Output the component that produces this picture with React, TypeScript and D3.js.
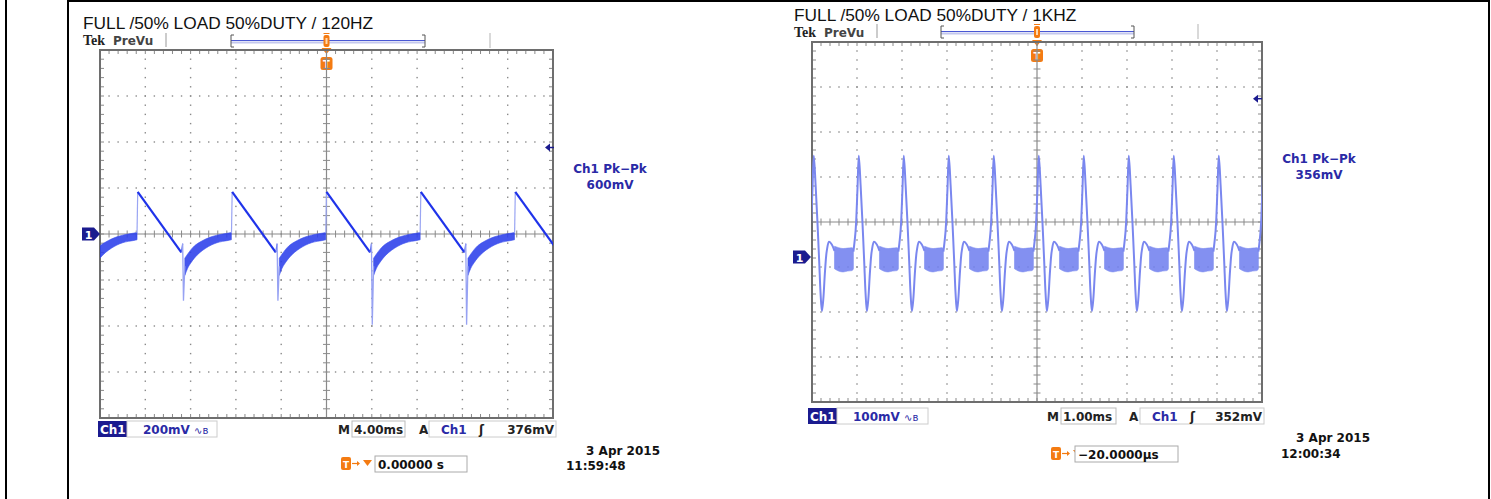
import React from "react"
import * as d3 from "d3"

type Pt = [number, number]

// ---------- left capture: 120 Hz, 4 ms/div, 200 mV/div ----------
const leftTitle = "FULL /50% LOAD 50%DUTY / 120HZ"
const leftScale = "200mV"
const leftTimebase = "4.00ms"
const leftTrigLevel = 376 // mV
const leftPkPk = "600mV"
const leftOffset = "0.00000 s"
const leftDate = "3 Apr 2015"
const leftClock = "11:59:48"

// ramp peak times (ms) and the depth of the spike after each ramp (mV)
const leftPeakTimes = [-25, -16.67, -8.33, 0, 8.33, 16.67]
const leftSpikeDepth = [-290, -290, -290, -395, -395, -395]
// one cycle, times relative to the ramp peak (ms), values in mV
const leftEdge: Pt[] = [[-0.06, 4], [0, 183]]
const leftRamp: Pt[] = [[0, 183], [3.85, -80]]
const leftKink: Pt[] = [[3.85, -80], [3.97, -42]]
const leftSpikeT = [3.97, 4.04, 4.16]
const leftSpikeEnds = [-42, -140]
const leftBandT = [4.16, 4.4, 4.7, 5.0, 5.5, 6.0, 6.5, 7.0, 7.5, 8.0, 8.27]
const leftBandHi = [-105, -88, -68, -52, -35, -22, -12, -5, 0, 4, 6]
const leftBandLo = [-180, -150, -125, -105, -80, -62, -48, -38, -32, -28, -25]

// ---------- right capture: 1 kHz, 1 ms/div, 100 mV/div ----------
const rightTitle = "FULL /50% LOAD 50%DUTY / 1KHZ"
const rightScale = "100mV"
const rightTimebase = "1.00ms"
const rightTrigLevel = 352
const rightPkPk = "356mV"
const rightOffset = "\u221220.0000\u00b5s"
const rightDate = "3 Apr 2015"
const rightClock = "12:00:34"

const rightSpikeTimes = [-4.96, -3.96, -2.96, -1.96, -0.96, 0.04, 1.04, 2.04, 3.04, 4.04, 5.04]
const rightPulse: Pt[] = [
  [-0.12, 12], [-0.07, 60], [-0.03, 150], [0, 225], [0.04, 160], [0.08, 80],
  [0.12, -10], [0.15, -80], [0.18, -120], [0.21, -95], [0.25, -30], [0.29, 15],
  [0.34, 34], [0.4, 28], [0.46, 14],
]
const rightBandT = [0.46, 0.55, 0.65, 0.75, 0.85, 0.88]
const rightBandHi = [24, 21, 19, 20, 21, 18]
const rightBandLo = [-26, -31, -33, -31, -30, -26]

// ---------- styling ----------
const UI = "'DejaVu Sans', Verdana, sans-serif"
const TXT_BLUE = "#2a2aa6"
const NAVY = "#1b1b8f"
const ORANGE = "#f47b12"
const GRID = "#8a8a8a"

interface Box { x0: number; y0: number; w: number; h: number }

function Graticule({ x0, y0, w, h }: Box) {
  const xd = d3.scaleLinear().domain([0, 10]).range([x0, x0 + w])
  const yd = d3.scaleLinear().domain([0, 8]).range([y0, y0 + h])
  const subX = d3.range(0, 51).map((i) => i / 5)
  const subY = d3.range(0, 41).map((i) => i / 5)
  const dots: Pt[] = []
  for (const i of [1, 2, 3, 4, 6, 7, 8, 9]) for (const s of subY) dots.push([xd(i), yd(s)])
  for (const j of [1, 2, 3, 5, 6, 7]) for (const s of subX) dots.push([xd(s), yd(j)])
  const cx = xd(5)
  const cy = yd(4)
  return (
    <g>
      {dots.map(([x, y], i) => (
        <rect key={i} x={x - 0.7} y={y - 0.7} width={1.4} height={1.4} fill={GRID} />
      ))}
      <line x1={cx} x2={cx} y1={y0} y2={y0 + h} stroke={GRID} strokeWidth={1.2} />
      <line x1={x0} x2={x0 + w} y1={cy} y2={cy} stroke={GRID} strokeWidth={1.2} />
      {subY.map((s, i) => (
        <g key={"vy" + i}>
          <line x1={cx - 3.5} x2={cx + 3.5} y1={yd(s)} y2={yd(s)} stroke={GRID} strokeWidth={1} />
          <line x1={x0} x2={x0 + 4} y1={yd(s)} y2={yd(s)} stroke={GRID} strokeWidth={1} />
          <line x1={x0 + w - 4} x2={x0 + w} y1={yd(s)} y2={yd(s)} stroke={GRID} strokeWidth={1} />
        </g>
      ))}
      {subX.map((s, i) => (
        <g key={"hx" + i}>
          <line x1={xd(s)} x2={xd(s)} y1={cy - 3.5} y2={cy + 3.5} stroke={GRID} strokeWidth={1} />
          <line x1={xd(s)} x2={xd(s)} y1={y0} y2={y0 + 4} stroke={GRID} strokeWidth={1} />
          <line x1={xd(s)} x2={xd(s)} y1={y0 + h - 4} y2={y0 + h} stroke={GRID} strokeWidth={1} />
        </g>
      ))}
      <rect x={x0} y={y0} width={w} height={h} fill="none" stroke="#6e6e6e" strokeWidth={2} />
    </g>
  )
}

interface HeaderProps {
  title: string
  tx: number
  titleY: number
  tekY: number
  sep1: number
  sep2: number
  barX1: number
  barX2: number
  barY: number
  cx: number
  graticuleTop: number
}

function Header(p: HeaderProps) {
  const by = p.barY
  return (
    <g>
      <text x={p.tx} y={p.titleY} fontFamily="'Liberation Sans', Arial, sans-serif" fontSize={17.3} fill="#111">
        {p.title}
      </text>
      <text x={p.tx} y={p.tekY} fontFamily="'Liberation Serif', serif" fontWeight="bold" fontSize={14} fill="#222">
        Tek
      </text>
      <text x={p.tx + 30} y={p.tekY} fontFamily={UI} fontWeight="bold" fontSize={12} fill="#444">
        PreVu
      </text>
      <line x1={p.sep1} x2={p.sep1} y1={by - 8} y2={by + 6} stroke="#999" strokeWidth={1} />
      <line x1={p.sep2} x2={p.sep2} y1={by - 8} y2={by + 7} stroke="#ccc" strokeWidth={1.5} />
      <line x1={p.barX1} x2={p.barX2} y1={by + 1.5} y2={by + 1.5} stroke="#c4c8ee" strokeWidth={2} />
      <line x1={p.barX1} x2={p.barX2} y1={by - 0.5} y2={by - 0.5} stroke="#4a58d4" strokeWidth={1.2} />
      <path d={`M${p.barX1 + 3},${by - 6} H${p.barX1} V${by + 6} H${p.barX1 + 3}`} fill="none" stroke="#555" strokeWidth={1} />
      <path d={`M${p.barX2 - 3},${by - 6} H${p.barX2} V${by + 6} H${p.barX2 - 3}`} fill="none" stroke="#555" strokeWidth={1} />
      {/* trigger position marker */}
      <rect x={p.cx - 3} y={by - 6} width={6} height={12} rx={2} fill={ORANGE} />
      <rect x={p.cx - 1} y={by - 3} width={2} height={6} fill="#ffd9b0" />
      <line x1={p.cx - 3} x2={p.cx + 3} y1={by - 7.5} y2={by - 7.5} stroke={ORANGE} strokeWidth={1} />
      <path d={`M${p.cx - 5},${p.graticuleTop - 2} L${p.cx + 5},${p.graticuleTop - 2} L${p.cx},${p.graticuleTop + 4} Z`} fill={ORANGE} />
      <rect x={p.cx - 6} y={p.graticuleTop + 7} width={12} height={13} rx={2.5} fill={ORANGE} />
      <text x={p.cx} y={p.graticuleTop + 17.5} textAnchor="middle" fontFamily={UI} fontWeight="bold" fontSize={10} fill="#fff">
        T
      </text>
    </g>
  )
}

interface StatusProps {
  scale: string
  timebase: string
  level: number
  offset: string
  date: string
  clock: string
  r1: number // row 1 top
  r2: number // row 2 top
  ch: number
  scaleEnd: number
  m: number
  mBox: [number, number]
  a: number
  aBox: [number, number]
  tIcon: number
  offBox: [number, number]
  dateRight: number
  dateY: number
  clockX: number
  clockY: number
}

function Status(s: StatusProps) {
  const h = 16
  const b1 = s.r1 + 12.5
  const b2 = s.r2 + 12.5
  const f = { fontFamily: UI, fontWeight: "bold" as const, fontSize: 12 }
  return (
    <g>
      <rect x={s.ch} y={s.r1} width={29} height={h} fill={NAVY} />
      <text x={s.ch + 2} y={b1} {...f} fill="#fff">Ch1</text>
      <rect x={s.ch + 29} y={s.r1} width={s.scaleEnd - s.ch - 29} height={h} fill="none" stroke="#ccc" strokeWidth={1} />
      <text x={s.ch + 45} y={b1} {...f} fill={TXT_BLUE}>{s.scale}</text>
      <text x={s.ch + 96} y={b1} fontFamily={UI} fontSize={10} fill={TXT_BLUE}>{"\u223f\u0299"}</text>
      <text x={s.m} y={b1} {...f} fill="#222">M</text>
      <rect x={s.mBox[0]} y={s.r1} width={s.mBox[1] - s.mBox[0]} height={h} fill="none" stroke="#bbb" strokeWidth={1} />
      <text x={s.mBox[0] + 2} y={b1} {...f} fill="#222">{s.timebase}</text>
      <text x={s.a} y={b1} {...f} fill="#222">A</text>
      <rect x={s.aBox[0]} y={s.r1} width={s.aBox[1] - s.aBox[0]} height={h} fill="none" stroke="#ccc" strokeWidth={1} />
      <text x={s.aBox[0] + 12} y={b1} {...f} fill={TXT_BLUE}>Ch1</text>
      <text x={s.aBox[0] + 50} y={b1} {...f} fill="#222">{"\u0283"}</text>
      <text x={s.aBox[1] - 2} y={b1} textAnchor="end" {...f} fill="#222">{`${s.level}mV`}</text>
      {/* trigger offset row */}
      <rect x={s.tIcon} y={s.r2 + 1} width={10} height={13} rx={2} fill={ORANGE} />
      <text x={s.tIcon + 5} y={s.r2 + 11.5} textAnchor="middle" fontFamily={UI} fontWeight="bold" fontSize={9} fill="#fff">T</text>
      <line x1={s.tIcon + 11} x2={s.tIcon + 18} y1={s.r2 + 7.5} y2={s.r2 + 7.5} stroke={ORANGE} strokeWidth={1.2} />
      <path d={`M${s.tIcon + 16},${s.r2 + 5} L${s.tIcon + 19},${s.r2 + 7.5} L${s.tIcon + 16},${s.r2 + 10} Z`} fill={ORANGE} />
      <path d={`M${s.tIcon + 22},${s.r2 + 4} L${s.tIcon + 31},${s.r2 + 4} L${s.tIcon + 26.5},${s.r2 + 10} Z`} fill={ORANGE} />
      <rect x={s.offBox[0]} y={s.r2} width={s.offBox[1] - s.offBox[0]} height={h} fill="#fff" stroke="#aaa" strokeWidth={1} />
      <text x={s.offBox[0] + 3} y={b2} {...f} fill="#111">{s.offset}</text>
      <text x={s.dateRight} y={s.dateY} textAnchor="end" {...f} fill="#111">{s.date}</text>
      <text x={s.clockX} y={s.clockY} {...f} fill="#111">{s.clock}</text>
    </g>
  )
}

function ChannelMarker({ x, y }: { x: number; y: number }) {
  return (
    <g>
      <path d={`M${x},${y - 6.5} H${x + 12} L${x + 18},${y} L${x + 12},${y + 6.5} H${x} Z`} fill={NAVY} />
      <text x={x + 6.5} y={y + 4.5} textAnchor="middle" fontFamily={UI} fontWeight="bold" fontSize={11} fill="#fff">1</text>
    </g>
  )
}

function LevelArrow({ x, y }: { x: number; y: number }) {
  return (
    <g>
      <path d={`M${x},${y} L${x + 5},${y - 4} L${x + 5},${y + 4} Z`} fill={NAVY} />
      <line x1={x + 4} x2={x + 9} y1={y} y2={y} stroke={NAVY} strokeWidth={1.5} />
    </g>
  )
}

function PkPk({ cx, y, value }: { cx: number; y: number; value: string }) {
  return (
    <g fontFamily={UI} fontWeight="bold" fontSize={12} fill={TXT_BLUE} textAnchor="middle">
      <text x={cx} y={y}>{"Ch1 Pk\u2212Pk"}</text>
      <text x={cx} y={y + 16}>{value}</text>
    </g>
  )
}

const leftBox: Box = { x0: 100, y0: 50, w: 453, h: 368 }
const rightBox: Box = { x0: 812, y0: 42, w: 450, h: 360 }

function LeftTrace() {
  const { x0, y0, w, h } = leftBox
  const x = d3.scaleLinear().domain([-20, 20]).range([x0, x0 + w])
  const y = d3.scaleLinear().domain([-800, 800]).range([y0 + h, y0])
  const line = d3.line<Pt>().x((d) => x(d[0])).y((d) => y(d[1]))
  const area = d3
    .area<number>()
    .x((_, i) => x(leftBandT[i]))
    .y0((_, i) => y(leftBandLo[i]))
    .y1((_, i) => y(leftBandHi[i]))
    .curve(d3.curveMonotoneX)
  return (
    <g clipPath="url(#clipL)">
      {leftPeakTimes.map((t0, k) => {
        const sh = (pts: Pt[]): Pt[] => pts.map(([t, v]) => [t + t0, v])
        const spike: Pt[] = [
          [leftSpikeT[0], leftSpikeEnds[0]],
          [leftSpikeT[1], leftSpikeDepth[k]],
          [leftSpikeT[2], leftSpikeEnds[1]],
        ]
        return (
          <g key={k}>
            <g transform={`translate(${x(t0) - x(0)},0)`}>
              <path d={area(leftBandT) || ""} fill="#2b3fea" fillOpacity={0.88} stroke="#3c50ee" strokeWidth={1} strokeOpacity={0.6} />
            </g>
            <path d={line(sh(leftEdge)) || ""} fill="none" stroke="#9aa5f3" strokeWidth={1.2} />
            <path d={line(sh(leftRamp)) || ""} fill="none" stroke="#1f33ea" strokeWidth={2.2} />
            <path d={line(sh(leftKink)) || ""} fill="none" stroke="#5566ee" strokeWidth={1.2} />
            <path d={line(sh(spike)) || ""} fill="none" stroke="#97a2f3" strokeWidth={1.3} />
          </g>
        )
      })}
    </g>
  )
}

function RightTrace() {
  const { x0, y0, w, h } = rightBox
  const x = d3.scaleLinear().domain([-5, 5]).range([x0, x0 + w])
  const y = d3.scaleLinear().domain([-322, 478]).range([y0 + h, y0])
  const line = d3.line<Pt>().x((d) => x(d[0])).y((d) => y(d[1])).curve(d3.curveCatmullRom)
  const area = d3
    .area<number>()
    .x((_, i) => x(rightBandT[i]))
    .y0((_, i) => y(rightBandLo[i]))
    .y1((_, i) => y(rightBandHi[i]))
    .curve(d3.curveMonotoneX)
  return (
    <g clipPath="url(#clipR)">
      {rightSpikeTimes.map((t0, k) => (
        <g key={k} transform={`translate(${x(t0) - x(0)},0)`}>
          <path d={area(rightBandT) || ""} fill="#6d7dee" fillOpacity={0.85} stroke="#7f8df0" strokeWidth={1} strokeOpacity={0.6} />
          <path d={line(rightPulse) || ""} fill="none" stroke="#7a87ef" strokeWidth={2} />
        </g>
      ))}
    </g>
  )
}

const App = () => {
  const lx = d3.scaleLinear().domain([-800, 800]).range([leftBox.y0 + leftBox.h, leftBox.y0])
  const ry = d3.scaleLinear().domain([-322, 478]).range([rightBox.y0 + rightBox.h, rightBox.y0])
  return (
    <div style={{ position: "absolute", left: 0, top: 0 }}>
      <svg width={1491} height={499} style={{ display: "block", background: "#fff" }}>
        <defs>
          <clipPath id="clipL">
            <rect x={leftBox.x0} y={leftBox.y0} width={leftBox.w} height={leftBox.h} />
          </clipPath>
          <clipPath id="clipR">
            <rect x={rightBox.x0} y={rightBox.y0} width={rightBox.w} height={rightBox.h} />
          </clipPath>
        </defs>
        {/* outer table frame */}
        <line x1={6} x2={6} y1={0} y2={499} stroke="#000" strokeWidth={2} />
        <line x1={68} x2={68} y1={0} y2={499} stroke="#000" strokeWidth={2} />
        <line x1={67} x2={1490} y1={1} y2={1} stroke="#000" strokeWidth={2} />
        <line x1={1489} x2={1489} y1={0} y2={499} stroke="#000" strokeWidth={2} />

        {/* left scope */}
        <Header title={leftTitle} tx={83} titleY={29} tekY={45} sep1={166} sep2={490} barX1={231} barX2={425} barY={41} cx={326.5} graticuleTop={50} />
        <Graticule {...leftBox} />
        <LeftTrace />
        <ChannelMarker x={82} y={lx(0)} />
        <LevelArrow x={545} y={lx(leftTrigLevel)} />
        <PkPk cx={610} y={173} value={leftPkPk} />
        <Status
          scale={leftScale} timebase={leftTimebase} level={leftTrigLevel} offset={leftOffset}
          date={leftDate} clock={leftClock}
          r1={421} r2={456} ch={98} scaleEnd={217} m={338} mBox={[352, 405]} a={419} aBox={[429, 556]}
          tIcon={341} offBox={[375, 467]} dateRight={660} dateY={455} clockX={566} clockY={470}
        />

        {/* right scope */}
        <Header title={rightTitle} tx={794} titleY={21} tekY={37} sep1={877} sep2={1198} barX1={941} barX2={1134} barY={32} cx={1037} graticuleTop={42} />
        <Graticule {...rightBox} />
        <RightTrace />
        <ChannelMarker x={793} y={ry(0)} />
        <LevelArrow x={1253} y={ry(rightTrigLevel)} />
        <PkPk cx={1319} y={163} value={rightPkPk} />
        <Status
          scale={rightScale} timebase={rightTimebase} level={rightTrigLevel} offset={rightOffset}
          date={rightDate} clock={rightClock}
          r1={408} r2={446} ch={808} scaleEnd={928} m={1047} mBox={[1061, 1116]} a={1129} aBox={[1140, 1264]}
          tIcon={1051} offBox={[1075, 1178]} dateRight={1370} dateY={442} clockX={1281} clockY={458}
        />
      </svg>
    </div>
  )
}

export default App
